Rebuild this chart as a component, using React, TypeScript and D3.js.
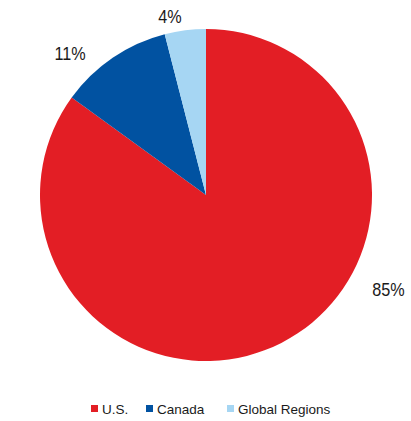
import React from "react";
import * as d3 from "d3";

const categories = ["U.S.", "Canada", "Global Regions"];
const shares = [85, 11, 4];
const colors = ["#E31E25", "#0152A1", "#A6D6F3"];

const width = 411;
const height = 421;
const cx = 206;
const cy = 195;
const radius = 166;

// label placement tweaks (degrees off slice middle, distance from centre)
const labelShift = [-35.4, -9.7, -4.3];
const labelDist = [206, 196, 181];

const App: React.FC = () => {
  const pie = d3
    .pie<number>()
    .sort(null)
    .value((d) => d);
  const arcs = pie(shares);

  const arc = d3.arc<d3.PieArcDatum<number>>().innerRadius(0).outerRadius(radius);

  const legendX = [91, 146, 227];

  return (
    <svg
      width={width}
      height={height}
      style={{ position: "absolute", left: 0, top: 0, fontFamily: "'Liberation Sans', Arial, sans-serif" }}
    >
      <g transform={`translate(${cx},${cy})`}>
        {arcs.map((a, i) => (
          <path key={categories[i]} d={arc(a)!} fill={colors[i]} />
        ))}
        {arcs.map((a, i) => {
          const mid = (a.startAngle + a.endAngle) / 2 + (labelShift[i] * Math.PI) / 180;
          const x = labelDist[i] * Math.sin(mid);
          const y = -labelDist[i] * Math.cos(mid);
          return (
            <text
              key={"l" + i}
              transform={`translate(${x},${y}) scale(0.9,1)`}
              textAnchor="middle"
              dominantBaseline="central"
              fontSize={18}
              fill="#1a1a1a"
            >
              {shares[i]}%
            </text>
          );
        })}
      </g>
      <g>
        {categories.map((c, i) => (
          <g key={c} transform={`translate(${legendX[i]},405)`}>
            <rect width={7} height={7} fill={colors[i]} />
            <text x={11} y={9} fontSize={13.5} fill="#1a1a1a">
              {c}
            </text>
          </g>
        ))}
      </g>
    </svg>
  );
};

export default App;
